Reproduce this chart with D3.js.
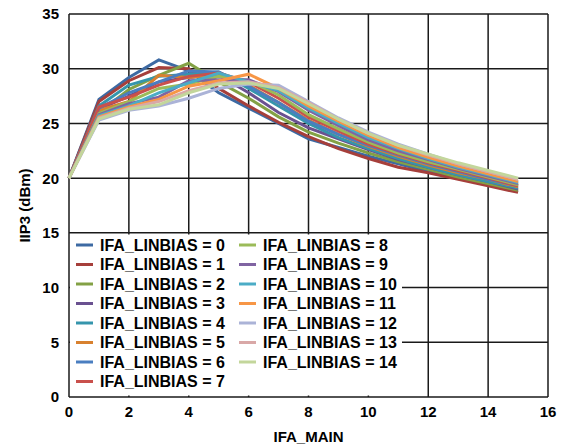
<!DOCTYPE html>
<html><head><meta charset="utf-8">
<script src="https://cdn.jsdelivr.net/npm/d3@7"></script>
<style>body{margin:0;background:#fff}svg{display:block}text{font-family:"Liberation Sans",Arial,sans-serif;font-weight:bold}</style>
</head><body><svg id="c" width="566" height="446"></svg>
<script>
const xValues = [0,1,2,3,4,5,6,7,8,9,10,11,12,13,14,15];
const seriesNames = ["IFA_LINBIAS = 0","IFA_LINBIAS = 1","IFA_LINBIAS = 2","IFA_LINBIAS = 3","IFA_LINBIAS = 4","IFA_LINBIAS = 5","IFA_LINBIAS = 6","IFA_LINBIAS = 7","IFA_LINBIAS = 8","IFA_LINBIAS = 9","IFA_LINBIAS = 10","IFA_LINBIAS = 11","IFA_LINBIAS = 12","IFA_LINBIAS = 13","IFA_LINBIAS = 14"];
const colors = ["#3d6aa3","#a63f3b","#83a145","#6a5190","#3595ac","#d8812f","#4a7ec0","#c9504c","#9bbb59","#8064a2","#4bacc6","#f79646","#abb3d7","#d9a8a7","#c3d69b"];
const s0  = [20,27.2,29.2,30.8,29.8,27.8,26.4,25.0,23.6,22.8,22.0,21.3,20.6,20.0,19.4,18.8];
const s1  = [20,27.0,28.9,30.1,30.0,28.2,26.6,25.1,23.8,22.7,21.8,21.0,20.5,19.9,19.3,18.7];
const s2  = [20,26.0,28.1,29.4,30.5,28.8,27.3,25.6,24.2,23.2,22.3,21.5,20.8,20.1,19.5,18.9];
const s3  = [20,26.3,27.5,28.8,29.2,29.4,27.8,26.0,24.6,23.6,22.6,21.7,21.0,20.3,19.7,19.0];
const s4  = [20,26.6,28.5,29.3,29.5,29.7,28.2,26.6,25.0,23.7,22.7,21.8,21.0,20.3,19.7,19.1];
const s5  = [20,26.2,27.0,29.4,29.2,29.5,28.5,26.9,25.3,24.0,22.9,22.0,21.2,20.5,19.9,19.2];
const s6  = [20,26.4,27.8,28.8,29.8,29.7,28.4,26.9,25.2,24.0,23.0,22.1,21.3,20.6,19.9,19.3];
const s7  = [20,26.5,27.4,28.5,29.3,29.6,28.8,27.3,25.6,24.3,23.1,22.2,21.4,20.7,20.0,19.3];
const s8  = [20,25.9,27.0,28.2,28.6,29.3,28.9,27.6,25.8,24.5,23.3,22.3,21.5,20.8,20.1,19.4];
const s9  = [20,25.8,26.8,27.4,28.9,29.0,29.0,27.9,26.2,24.8,23.5,22.5,21.7,20.9,20.2,19.5];
const s10 = [20,25.7,26.6,27.8,28.7,29.6,28.8,28.0,26.4,25.0,23.7,22.7,21.8,21.0,20.3,19.6];
const s11 = [20,25.6,26.5,27.2,28.4,28.9,29.5,28.2,26.6,25.2,23.9,22.8,21.9,21.1,20.4,19.7];
const s12 = [20,25.3,26.2,26.6,27.3,28.2,28.6,28.5,27.0,25.5,24.2,23.1,22.2,21.3,20.6,19.9];
const s13 = [20,25.5,26.4,27.0,28.0,28.7,28.8,28.3,26.9,25.4,24.1,23.0,22.1,21.3,20.6,19.9];
const s14 = [20,25.4,26.3,26.7,27.8,28.6,28.7,28.2,26.8,25.4,24.1,23.0,22.2,21.4,20.7,20.0];
const seriesValues = [s0,s1,s2,s3,s4,s5,s6,s7,s8,s9,s10,s11,s12,s13,s14];
const xTicks = [0,2,4,6,8,10,12,14,16];
const yTicks = [0,5,10,15,20,25,30,35];
const xTitle = "IFA_MAIN", yTitle = "IIP3 (dBm)";

const svg = d3.select("#c");
const L = 69, R = 548, T = 14, B = 397;
const x = d3.scaleLinear().domain([0,16]).range([L,R]);
const y = d3.scaleLinear().domain([0,35]).range([B,T]);

// gridlines
const g = svg.append("g");
g.selectAll(".vg").data(xTicks).join("line")
  .attr("x1",d=>x(d)).attr("x2",d=>x(d)).attr("y1",T).attr("y2",B)
  .attr("stroke","#1a1a1a").attr("stroke-width",1.5);
g.selectAll(".hg").data(yTicks).join("line")
  .attr("x1",L).attr("x2",R).attr("y1",d=>y(d)).attr("y2",d=>y(d))
  .attr("stroke","#1a1a1a").attr("stroke-width",1.5);

// lines
const line = d3.line().x((d,i)=>x(xValues[i])).y(d=>y(d));
svg.append("g").selectAll("path").data(seriesValues).join("path")
  .attr("d",line).attr("fill","none")
  .attr("stroke",(d,i)=>colors[i]).attr("stroke-width",3).attr("stroke-linejoin","miter");

// legend
const lg = svg.append("g");
lg.append("rect").attr("x",70).attr("y",234.5).attr("width",332).attr("height",161).attr("fill","#fff");
seriesNames.forEach((n,i)=>{
  const col = i<8?0:1, row = i<8?i:i-8;
  const lx = col===0?76:239, ly = 245 + row*19.5;
  lg.append("line").attr("x1",lx).attr("x2",lx+17).attr("y1",ly).attr("y2",ly)
    .attr("stroke",colors[i]).attr("stroke-width",3);
  lg.append("text").attr("x",lx+24).attr("y",ly).attr("dy","0.36em")
    .attr("font-size",16).attr("fill","#000").text(n);
});

// axes labels
svg.append("g").selectAll("text").data(xTicks).join("text")
  .attr("x",d=>x(d)).attr("y",B+20).attr("text-anchor","middle")
  .attr("font-size",15).text(d=>d);
svg.append("g").selectAll("text").data(yTicks).join("text")
  .attr("x",L-10).attr("y",d=>y(d)).attr("dy","0.36em").attr("text-anchor","end")
  .attr("font-size",15).text(d=>d);
svg.append("text").attr("x",(L+R)/2).attr("y",442).attr("text-anchor","middle")
  .attr("font-size",15).text(xTitle);
svg.append("text").attr("transform",`translate(30,${(T+B)/2}) rotate(-90)`)
  .attr("text-anchor","middle").attr("font-size",15).text(yTitle);
</script></body></html>
